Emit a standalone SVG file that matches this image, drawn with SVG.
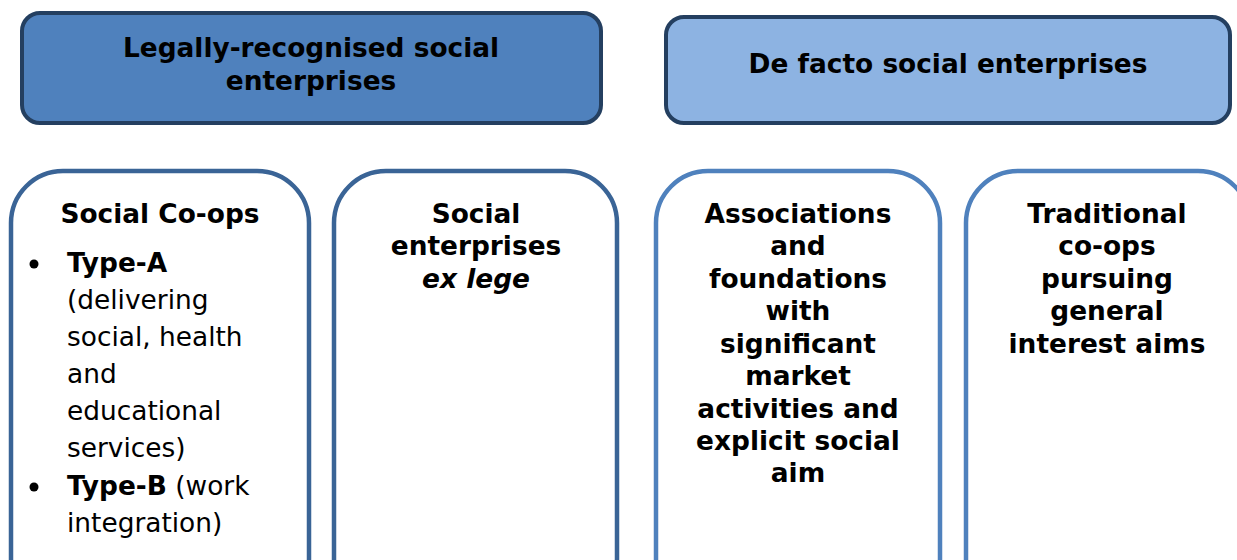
<svg xmlns="http://www.w3.org/2000/svg" width="1237" height="560" viewBox="0 0 1237 560">
<style>
text{font-family:"DejaVu Sans","Liberation Sans",sans-serif;font-size:26.4px;fill:#000}
.b{font-weight:bold}
.c{text-anchor:middle}
.hd{stroke:#243f60;stroke-width:4}
.bx{fill:#fff;stroke-width:4.5}
</style>
<rect width="1237" height="560" fill="#fff"/>
<g id="legal-header">
<rect class="hd" x="22" y="13" width="579" height="110" rx="18" fill="#4f81bd"/>
<text class="b c" x="311" y="57">Legally-recognised social</text>
<text class="b c" x="311" y="90">enterprises</text>
</g>
<g id="defacto-header">
<rect class="hd" x="666" y="17" width="564" height="106" rx="18" fill="#8db3e2"/>
<text class="b c" x="948" y="73">De facto social enterprises</text>
</g>
<g id="social-coops">
<rect class="bx" x="11" y="171" width="298" height="440" rx="52" stroke="#3a6496"/>
<text class="b c" x="160" y="223">Social Co-ops</text>
<circle cx="34" cy="264" r="4.5"/>
<text class="b" x="67" y="272">Type-A</text>
<text x="67" y="309">(delivering</text>
<text x="67" y="346">social, health</text>
<text x="67" y="383">and</text>
<text x="67" y="420">educational</text>
<text x="67" y="457">services)</text>
<circle cx="34" cy="487" r="4.5"/>
<text x="67" y="495"><tspan class="b">Type-B</tspan> (work</text>
<text x="67" y="532">integration)</text>
</g>
<g id="ex-lege">
<rect class="bx" x="334" y="171" width="283" height="440" rx="52" stroke="#3a6496"/>
<text class="b c" x="476" y="223">Social</text>
<text class="b c" x="476" y="255">enterprises</text>
<text class="b c" x="476" y="288" font-style="italic">ex lege</text>
</g>
<g id="associations">
<rect class="bx" x="656" y="171" width="284" height="440" rx="52" stroke="#4f81bd"/>
<text class="b c" x="798" y="223">Associations</text>
<text class="b c" x="798" y="255">and</text>
<text class="b c" x="798" y="288">foundations</text>
<text class="b c" x="798" y="320">with</text>
<text class="b c" x="798" y="353">significant</text>
<text class="b c" x="798" y="385">market</text>
<text class="b c" x="798" y="418">activities and</text>
<text class="b c" x="798" y="450">explicit social</text>
<text class="b c" x="798" y="482">aim</text>
</g>
<g id="traditional-coops">
<rect class="bx" x="966" y="171" width="284" height="440" rx="52" stroke="#4f81bd"/>
<text class="b c" x="1107" y="223">Traditional</text>
<text class="b c" x="1107" y="255">co-ops</text>
<text class="b c" x="1107" y="288">pursuing</text>
<text class="b c" x="1107" y="320">general</text>
<text class="b c" x="1107" y="353">interest aims</text>
</g>
<g id="connectors"/>
</svg>
